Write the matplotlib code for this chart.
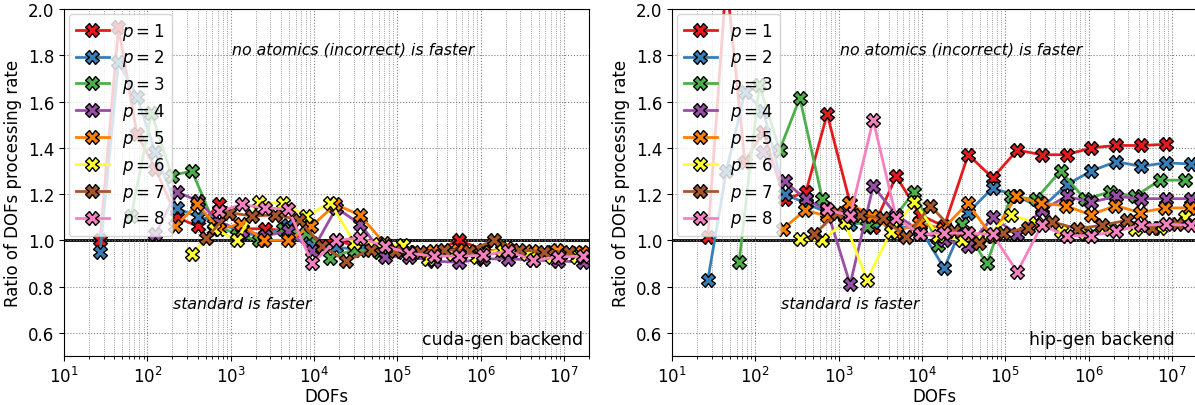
import numpy as np
import matplotlib.pyplot as plt

# DOFs per polynomial degree (tensor meshes refined one direction at a time)
dofs_p1 = [27, 45, 75, 125, 225, 405, 729, 1377, 2601, 4913, 9537, 18513, 35937, 70785,
           139425, 274625, 545025, 1081665, 2146689, 4276737, 8520321]
dofs_p2 = dofs_p1 + [16974593]
dofs_p3 = [64, 112, 196, 343, 637, 1183, 2197, 4225, 8125, 15625, 30625, 60025, 117649,
           232897, 461041, 912673, 1815937, 3613153, 7189057, 14340865]
dofs_p4 = [125, 225, 405, 729, 1377, 2601, 4913, 9537, 18513, 35937, 70785, 139425, 274625,
           545025, 1081665, 2146689, 4276737, 8520321, 16974593]
dofs_p5 = [216, 396, 726, 1331, 2541, 4851, 9261, 18081, 35301, 68921, 136161, 269001,
           531441, 1056321, 2099601, 4173281, 8320641, 16589601]
dofs_p6 = [343, 637, 1183, 2197, 4225, 8125, 15625, 30625, 60025, 117649, 232897, 461041,
           912673, 1815937, 3613153, 7189057, 14340865]
dofs_p7 = [512, 960, 1800, 3375, 6525, 12615, 24389, 47937, 94221, 185193, 367137, 727833,
           1442897, 2873025, 5720625, 11390625]
dofs_p8 = [729, 1377, 2601, 4913, 9537, 18513, 35937, 70785, 139425, 274625, 545025,
           1081665, 2146689, 4276737, 8520321, 16974593]

# ratio no-atomics / standard, cuda-gen
cuda_p1 = [1.00, 1.92, 1.46, 1.31, 1.10, 1.06, 1.155, 1.05, 1.05, 1.04, 0.99, 1.00, 0.97,
           0.96, 0.95, 0.95, 1.00, 0.96, 0.95, 0.95, 0.955]
cuda_p2 = [0.95, 1.77, 1.62, 1.38, 1.14, 1.10, 1.08, 1.03, 1.02, 1.065, 0.98, 0.97, 0.96,
           0.95, 0.95, 0.94, 0.95, 0.95, 0.94, 0.94, 0.945, 0.945]
cuda_p3 = [1.105, 1.55, 1.28, 1.30, 1.07, 1.025, 1.00, 1.05, 1.03, 0.925, 0.96, 0.95, 0.95,
           0.94, 0.945, 0.95, 0.94, 0.945, 0.95, 0.945]
cuda_p4 = [1.026, 1.21, 1.17, 1.08, 1.04, 1.02, 1.04, 0.955, 1.14, 1.07, 0.93, 0.93, 0.91,
           0.905, 0.92, 0.92, 0.915, 0.91, 0.907]
cuda_p5 = [1.06, 1.155, 1.05, 1.07, 1.00, 1.00, 1.06, 1.155, 1.11, 0.99, 0.95, 0.955, 0.96,
           0.95, 0.965, 0.955, 0.96, 0.95]
cuda_p6 = [0.94, 1.05, 1.00, 1.165, 1.16, 1.105, 1.163, 0.99, 0.985, 0.98, 0.92, 0.94, 0.93,
           0.96, 0.94, 0.93, 0.93]
cuda_p7 = [1.01, 1.12, 1.105, 1.11, 1.09, 0.975, 0.91, 0.96, 0.955, 0.95, 0.96, 0.955, 1.00,
           0.96, 0.95, 0.95]
cuda_p8 = [1.125, 1.155, 1.14, 1.135, 0.90, 1.00, 1.01, 0.975, 0.944, 0.932, 0.932, 0.935,
           0.954, 0.914, 0.928, 0.932]

# ratio no-atomics / standard, hip-gen
hip_p1 = [1.015, 2.13, 1.34, 1.47, 1.177, 1.208, 1.546, 1.16, 1.056, 1.277, 1.11, 1.06, 1.37,
          1.27, 1.39, 1.37, 1.37, 1.40, 1.41, 1.41, 1.415]
hip_p2 = [0.83, 1.30, 1.64, 1.56, 1.20, 1.16, 1.12, 1.07, 1.08, 1.06, 1.05, 0.88, 1.12, 1.227,
          1.19, 1.14, 1.24, 1.30, 1.34, 1.32, 1.335, 1.33]
hip_p3 = [0.906, 1.67, 1.39, 1.615, 1.18, 1.10, 1.06, 1.08, 1.21, 0.98, 1.07, 0.90, 1.19,
          1.177, 1.30, 1.177, 1.21, 1.19, 1.26, 1.26]
hip_p4 = [1.38, 1.256, 1.177, 1.13, 0.81, 1.234, 1.11, 1.04, 1.00, 0.975, 1.10, 1.026, 1.13,
          1.19, 1.165, 1.19, 1.18, 1.18, 1.18]
hip_p5 = [1.05, 1.13, 1.105, 1.16, 1.105, 1.035, 1.076, 1.05, 1.16, 1.02, 1.19, 1.16, 1.15,
          1.11, 1.15, 1.12, 1.14, 1.14]
hip_p6 = [1.005, 1.00, 1.08, 0.83, 1.036, 1.165, 1.02, 1.00, 1.02, 1.11, 1.076, 1.04, 1.033,
          1.05, 1.05, 1.055, 1.10]
hip_p7 = [1.026, 1.12, 1.11, 1.095, 1.015, 1.15, 1.04, 0.99, 1.03, 1.055, 1.08, 1.05, 1.065,
          1.086, 1.055, 1.07]
hip_p8 = [1.134, 1.105, 1.52, 1.098, 1.026, 1.033, 1.03, 1.026, 0.863, 1.065, 1.02, 1.02,
          1.04, 1.065, 1.07, 1.065]

dofs = [dofs_p1, dofs_p2, dofs_p3, dofs_p4, dofs_p5, dofs_p6, dofs_p7, dofs_p8]
cuda = [cuda_p1, cuda_p2, cuda_p3, cuda_p4, cuda_p5, cuda_p6, cuda_p7, cuda_p8]
hip = [hip_p1, hip_p2, hip_p3, hip_p4, hip_p5, hip_p6, hip_p7, hip_p8]
colors = ['#e41a1c', '#377eb8', '#4daf4a', '#984ea3', '#ff7f00', '#ffff33', '#a65628', '#f781bf']

fig = plt.figure(figsize=(11.95, 4.06), dpi=100)
ax1 = fig.add_axes([0.0536, 0.1207, 0.4393, 0.8547])
ax2 = fig.add_axes([0.5623, 0.1207, 0.4393, 0.8547])

for ax, data in [(ax1, cuda), (ax2, hip)]:
    for p in range(8):
        ax.plot(dofs[p], data[p], color=colors[p], lw=2, marker='X', ms=10,
                mec='black', mew=1, label='$p = %d$' % (p + 1))
    ax.axhline(1.0, color='black', lw=2, zorder=1.5)
    ax.set_xscale('log')
    ax.set_xlim(10, 2e7)
    ax.set_ylim(0.5, 2.0)
    ax.set_yticks(np.arange(0.6, 2.01, 0.2))
    ax.set_yticklabels(['%.1f' % v for v in np.arange(0.6, 2.01, 0.2)])
    ax.grid(True, which='major', ls=':', color='gray', lw=0.8)
    ax.grid(True, which='minor', axis='x', ls=':', color='gray', lw=0.6)
    ax.tick_params(labelsize=12)
    ax.set_xlabel('DOFs', fontsize=12, labelpad=1)
    ax.set_ylabel('Ratio of DOFs processing rate', fontsize=12)
    ax.text(0.32, 0.885, 'no atomics (incorrect) is faster', transform=ax.transAxes,
            fontsize=11.3, style='italic', va='center')
    ax.text(0.208, 0.15, 'standard is faster', transform=ax.transAxes,
            fontsize=11.3, style='italic', va='center')
    ax.legend(loc='upper left', fontsize=12, labelspacing=0.35, borderaxespad=0.3)

ax1.text(0.988, 0.05, 'cuda-gen backend', transform=ax1.transAxes, fontsize=12.5,
         ha='right', va='center')
ax2.text(0.958, 0.05, 'hip-gen backend', transform=ax2.transAxes, fontsize=12.5,
         ha='right', va='center')

fig.savefig('out.png', dpi=100)
